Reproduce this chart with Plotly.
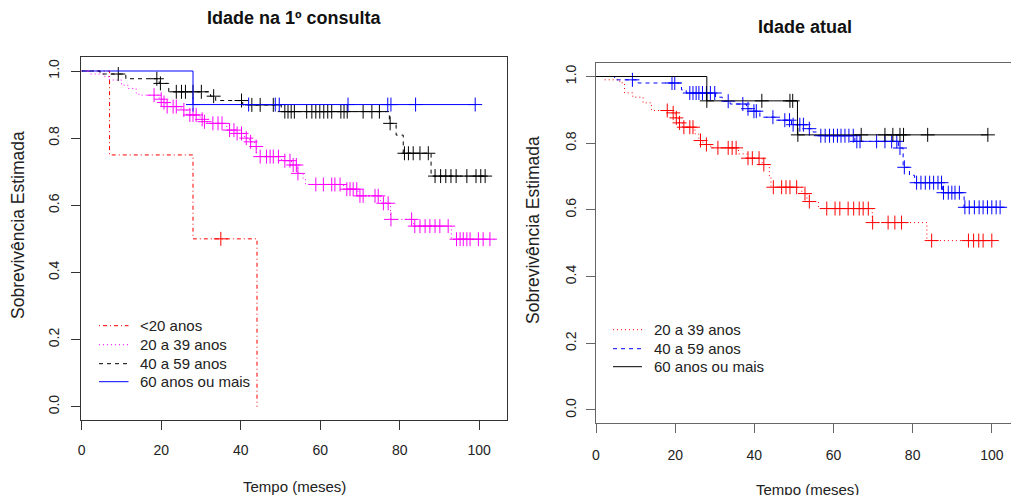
import plotly.graph_objects as go

# ---------------- data: left panel "Idade na 1º consulta" ----------------
L_lt20_t = [7.0, 28.0, 44.1]
L_lt20_s = [0.75, 0.50, 0.0]
L_lt20_end = 44.1
L_lt20_c = [35.0]

L_2039_t = [2.0, 5.8, 7.0, 10.0, 11.6, 13.7, 14.4, 19.5, 20.5, 21.2, 25.0, 26.5, 29.8, 30.6,
            32.0, 36.5, 38.8, 41.0, 42.2, 43.5, 44.0, 50.3, 52.8, 54.2, 55.7, 56.3, 65.9,
            69.5, 75.2, 77.7, 83.5, 93.0]
L_2039_s = [0.991, 0.983, 0.973, 0.958, 0.948, 0.934, 0.928, 0.916, 0.906, 0.894, 0.884,
            0.869, 0.856, 0.849, 0.844, 0.824, 0.814, 0.800, 0.789, 0.775, 0.745, 0.733,
            0.720, 0.695, 0.680, 0.662, 0.648, 0.628, 0.606, 0.558, 0.538, 0.499]
L_2039_end = 104.0
L_2039_c = [18.2, 20.0, 20.7, 21.5, 23.0, 23.8, 25.7, 27.2, 28.0, 28.8, 30.3, 30.9, 33.0, 34.3,
            35.3, 37.2, 38.3, 39.1, 40.2, 41.4, 42.5, 43.9, 44.9, 46.5, 47.4, 48.2, 49.5, 51.1,
            52.4, 53.2, 54.0, 54.4, 58.9, 60.8, 62.9, 63.7, 65.0, 66.7, 67.5, 68.3, 69.2, 70.0,
            70.8, 73.8, 74.6, 75.9, 77.1, 77.8, 83.0, 83.8, 85.1, 86.4, 87.6, 88.9, 90.1, 92.2,
            94.3, 95.2, 96.0, 96.9, 97.7, 99.8, 101.0, 102.7]

L_4059_t = [4.6, 11.1, 19.5, 21.9, 32.4, 33.7, 40.5, 50.2, 77.4, 79.1, 80.9, 87.9]
L_4059_s = [0.991, 0.977, 0.963, 0.938, 0.925, 0.912, 0.899, 0.879, 0.844, 0.809, 0.755, 0.687]
L_4059_end = 102.3
L_4059_c = [9.2, 18.9, 19.8, 23.8, 25.1, 26.1, 28.0, 30.1, 33.2, 40.2, 42.8, 44.9, 48.2, 51.1,
            51.9, 52.7, 53.5, 56.6, 57.9, 58.9, 59.9, 60.9, 61.9, 62.9, 65.2, 66.0, 66.8, 70.8,
            73.0, 74.9, 77.6, 81.2, 82.2, 83.4, 85.1, 87.2, 88.9, 90.3, 91.6, 92.9, 94.2, 96.9,
            99.2, 100.4, 101.5]

L_60_t = [28.0]
L_60_s = [0.90]
L_60_end = 99.0
L_60_c = [28.0, 42.0, 48.7, 49.7, 67.0, 77.0, 77.8, 84.0, 99.0]

# ---------------- data: right panel "Idade atual" ----------------
R_2039_t = [2.2, 6.0, 7.2, 9.3, 11.9, 14.0, 19.0, 20.0, 20.8, 21.8, 25.0, 26.0, 27.0, 29.0,
            36.0, 38.2, 42.0, 43.8, 44.2, 52.0, 53.3, 56.2, 69.8, 83.6]
R_2039_s = [0.990, 0.981, 0.951, 0.938, 0.921, 0.898, 0.891, 0.876, 0.861, 0.848, 0.828,
            0.808, 0.796, 0.786, 0.768, 0.755, 0.736, 0.700, 0.668, 0.649, 0.625, 0.604,
            0.562, 0.508]
R_2039_end = 100.9
R_2039_c = [18.0, 19.5, 20.3, 21.1, 22.2, 23.7, 24.5, 26.4, 27.9, 30.8, 33.4, 34.4, 35.4, 38.4,
            39.5, 41.2, 42.4, 44.8, 46.9, 48.0, 49.0, 50.7, 52.8, 53.9, 58.3, 60.4, 61.6, 63.7,
            65.1, 66.5, 67.5, 68.8, 69.9, 73.8, 75.5, 77.2, 84.8, 94.1, 95.4, 96.7, 97.8, 100.0]

R_4059_t = [4.7, 10.6, 21.6, 22.8, 30.2, 31.9, 33.9, 38.0, 39.5, 41.4, 45.3, 49.4, 53.5,
            54.8, 55.8, 65.4, 76.4, 77.6, 79.2, 80.5, 87.5, 93.0]
R_4059_s = [0.990, 0.9805, 0.960, 0.9505, 0.938, 0.926, 0.9175, 0.9035, 0.896, 0.878, 0.869,
            0.8555, 0.8435, 0.8336, 0.8225, 0.8056, 0.7856, 0.7277, 0.7037, 0.6816, 0.6516,
            0.6078]
R_4059_end = 103.3
R_4059_c = [9.2, 19.2, 19.9, 23.7, 24.5, 25.3, 26.0, 26.9, 27.9, 28.9, 30.0, 33.4, 37.1, 38.4,
            39.9, 40.5, 44.7, 47.7, 48.9, 49.8, 51.5, 52.4, 53.9, 56.8, 57.9, 59.0, 60.0, 61.0,
            61.9, 62.9, 63.9, 65.0, 65.9, 66.7, 70.9, 73.0, 74.7, 76.0, 76.8, 77.9, 81.0, 82.1,
            83.2, 84.3, 85.3, 86.4, 87.3, 87.8, 89.0, 89.9, 90.7, 91.8, 93.2, 94.3, 95.6, 96.8,
            97.8, 98.9, 100.0, 101.1, 102.1]

R_60_t = [28.0, 50.9]
R_60_s = [0.927, 0.825]
R_60_end = 99.0
R_60_c = [28.0, 41.9, 49.0, 49.7, 51.0, 67.0, 73.0, 75.0, 76.8, 77.7, 83.8, 99.0]

titles = ["Idade na 1º consulta", "Idade atual"]
x_title = "Tempo (meses)"
y_title = "Sobrevivência Estimada"
x_ticks = [0, 20, 40, 60, 80, 100]
y_ticks = [0.0, 0.2, 0.4, 0.6, 0.8, 1.0]
left_names = ["<20 anos", "20 a 39 anos", "40 a 59 anos", "60 anos ou mais"]
right_names = ["20 a 39 anos", "40 a 59 anos", "60 anos ou mais"]


def surv_at(t, times, survs):
    s = 1.0
    for ti, si in zip(times, survs):
        if ti <= t:
            s = si
        else:
            break
    return s


def step_xy(times, survs, end):
    xs = [0.0] + list(times)
    ys = [1.0] + list(survs)
    if end > xs[-1]:
        xs.append(end)
        ys.append(ys[-1])
    return xs, ys


fig = go.Figure()


def add_curve(times, survs, end, cens, name, color, dash, xa, ya):
    xs, ys = step_xy(times, survs, end)
    fig.add_trace(go.Scatter(x=xs, y=ys, mode="lines", line=dict(shape="hv", color=color, width=1, dash=dash),
                             name=name, xaxis=xa, yaxis=ya, showlegend=False, hoverinfo="skip"))
    cy = [surv_at(c, times, survs) for c in cens]
    fig.add_trace(go.Scatter(x=cens, y=cy, mode="markers", showlegend=False,
                             marker=dict(symbol="cross-thin", size=10, line=dict(color=color, width=1)),
                             xaxis=xa, yaxis=ya, hoverinfo="skip"))


DASHED = "4px,4px"
DOTTED = "1px,3px"
DOTDASH = "1px,3px,4px,3px"

left_styles = [("#FF0000", DOTDASH), ("#FF00FF", DOTTED), ("#000000", DASHED), ("#0000FF", "solid")]
right_styles = [("#FF0000", DOTTED), ("#0000FF", DASHED), ("#000000", "solid")]

left_data = [(L_lt20_t, L_lt20_s, L_lt20_end, L_lt20_c), (L_2039_t, L_2039_s, L_2039_end, L_2039_c),
             (L_4059_t, L_4059_s, L_4059_end, L_4059_c), (L_60_t, L_60_s, L_60_end, L_60_c)]
right_data = [(R_2039_t, R_2039_s, R_2039_end, R_2039_c), (R_4059_t, R_4059_s, R_4059_end, R_4059_c),
              (R_60_t, R_60_s, R_60_end, R_60_c)]

for (t, s, e, c), n, (col, d) in zip(left_data, left_names, left_styles):
    add_curve(t, s, e, c, n, col, d, "x", "y")
for (t, s, e, c), n, (col, d) in zip(right_data, right_names, right_styles):
    add_curve(t, s, e, c, n, col, d, "x2", "y2")

W, H = 1011, 495
FONT = "Liberation Sans, Arial, sans-serif"
TICKF = dict(family=FONT, size=14, color="#222")

ax_common = dict(showgrid=False, zeroline=False, ticks="outside", ticklen=9, tickwidth=1,
                 showline=True, linewidth=1, tickfont=TICKF, automargin=False)

annotations = [
    dict(text="<b>" + titles[0] + "</b>", x=294 / W, y=(H - 18) / H,
         font=dict(family=FONT, size=18, color="#111")),
    dict(text="<b>" + titles[1] + "</b>", x=805 / W, y=(H - 27) / H,
         font=dict(family=FONT, size=18, color="#111")),
    dict(text=x_title, x=294 / W, y=(H - 486) / H, font=dict(family=FONT, size=15, color="#222")),
    dict(text=x_title, x=807 / W, y=(H - 489) / H, font=dict(family=FONT, size=15, color="#222")),
    dict(text=y_title, x=18 / W, y=(H - 225) / H, textangle=-90, font=dict(family=FONT, size=17.5, color="#222")),
    dict(text=y_title, x=533 / W, y=(H - 230) / H, textangle=-90, font=dict(family=FONT, size=17.5, color="#222")),
]
for a in annotations:
    a.update(xref="paper", yref="paper", showarrow=False, xanchor="center", yanchor="middle")

shapes = []
# manual legends (R-style: short line sample, text to the right)
left_leg_y = [325.7, 344.7, 363.7, 381.7]
for yy, n, (col, d) in zip(left_leg_y, left_names, left_styles):
    shapes.append(dict(type="line", xref="paper", yref="paper", x0=99 / W, x1=128.5 / W,
                       y0=(H - yy) / H, y1=(H - yy) / H, line=dict(color=col, width=1, dash=d)))
    annotations.append(dict(text=n, x=138 / W, y=(H - yy) / H, xref="paper", yref="paper", showarrow=False,
                            xanchor="left", yanchor="middle", font=dict(family=FONT, size=15, color="#222")))
right_leg_y = [329.7, 348.7, 366.7]
for yy, n, (col, d) in zip(right_leg_y, right_names, right_styles):
    shapes.append(dict(type="line", xref="paper", yref="paper", x0=613 / W, x1=642 / W,
                       y0=(H - yy) / H, y1=(H - yy) / H, line=dict(color=col, width=1, dash=d)))
    annotations.append(dict(text=n, x=652 / W, y=(H - yy) / H, xref="paper", yref="paper", showarrow=False,
                            xanchor="left", yanchor="middle", font=dict(family=FONT, size=15, color="#222")))

fig.update_layout(
    width=W, height=H, margin=dict(l=0, r=0, t=0, b=0, autoexpand=False),
    paper_bgcolor="white", plot_bgcolor="white", showlegend=False,
    font=dict(family=FONT, size=14, color="#222"),
    xaxis=dict(domain=[81 / W, 507 / W], range=[-0.18, 107.0], tickvals=x_ticks,
               linecolor="#333", tickcolor="#333", mirror=True, ticklabelstandoff=8, **ax_common),
    yaxis=dict(domain=[(H - 420) / H, (H - 57) / H], range=[-0.0396, 1.0417], tickvals=y_ticks,
               tickformat=".1f", tickangle=-90, linecolor="#333", tickcolor="#333", mirror=True,
               ticklabelstandoff=6, **ax_common),
    xaxis2=dict(domain=[595.7 / W, 1.0], range=[-0.076, 104.85], tickvals=x_ticks, anchor="y2",
                linecolor="#666", tickcolor="#666", mirror=True, ticklabelstandoff=10, **ax_common),
    yaxis2=dict(domain=[(H - 423.3) / H, (H - 63.3) / H], range=[-0.0399, 1.0396], tickvals=y_ticks,
                tickformat=".1f", tickangle=-90, anchor="x2", linecolor="#666", tickcolor="#666",
                mirror=False, ticklabelstandoff=4, **ax_common),
    annotations=annotations,
    shapes=shapes,
)

fig.write_html("out.html", config={"displayModeBar": False},
               post_script="document.body.style.margin='0';document.body.style.overflow='hidden';")
